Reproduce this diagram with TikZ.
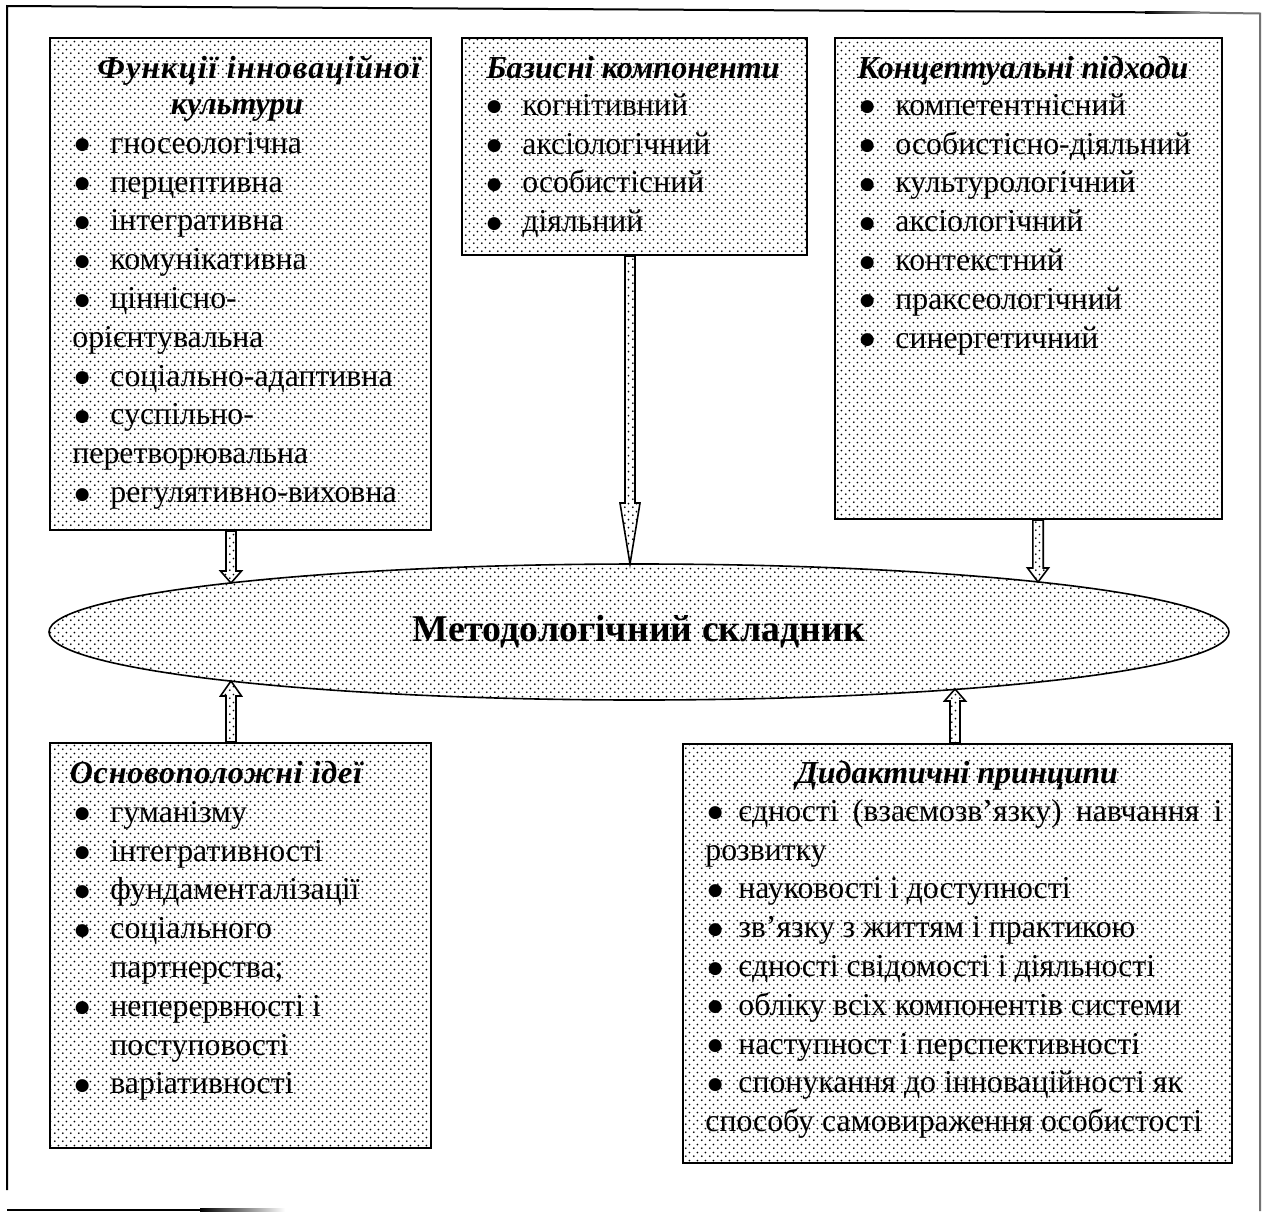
\documentclass[tikz,border=0pt]{standalone}
\usepackage{fontspec}
\setmainfont{Liberation Serif}
\newfontfamily\dotfont{DejaVu Sans}
\usetikzlibrary{patterns,shapes.geometric,fit,calc}

% staggered halftone dots
\pgfdeclarepatternformonly{stipple}{\pgfqpoint{0pt}{0pt}}{\pgfqpoint{3.8pt}{3.8pt}}{\pgfqpoint{3.8pt}{3.8pt}}{%
  \pgfpathcircle{\pgfqpoint{0.95pt}{0.95pt}}{0.5pt}%
  \pgfpathcircle{\pgfqpoint{2.85pt}{2.85pt}}{0.5pt}%
  \pgfusepath{fill}}

\newlength\bulw
\newlength\bulo
\setlength\bulo{1.2pt}
\newcommand\bul[1]{\makebox[\bulw][l]{\hspace*{\bulo}\raisebox{1.7pt}{\dotfont\fontsize{8.5}{10}\selectfont ●}}#1}
\newcommand\cnt[1]{\hspace*{\bulw}#1}

% hollow block arrow: tail, tip, shaft half-width, head half-width, head length
\newcommand\blockarrow[5]{%
  \path[blockfill] let \p1=(#1), \p2=(#2), \p3=($(#2)!#5!(#1)$) in
    (\x1-#3,\y1) -- (\x1-#3,\y3) -- (\x1-#4,\y3) -- (\x2,\y2)
    -- (\x1+#4,\y3) -- (\x1+#3,\y3) -- (\x1+#3,\y1) -- cycle;}

\begin{document}
\begin{tikzpicture}[x=0.5pt, y=-0.5pt,
  panel/.style={draw, line width=1pt, pattern=stipple, inner sep=0pt},
  listtext/.style={font=\fontsize{15.9}{19.4}\selectfont, align=left, inner sep=0pt, anchor=north west},
  heading/.style={font=\fontsize{16}{18}\selectfont\bfseries\itshape, inner sep=0pt, anchor=base},
  hub/.style={ellipse, draw, line width=0.8pt, pattern=stipple, inner sep=0pt,
    minimum width=590pt, minimum height=68pt, font=\fontsize{18.9}{22}\selectfont\bfseries},
  blockfill/.style={draw, line width=0.8pt, pattern=stipple, line join=miter},
  frameline/.style={line width=1pt}]

\useasboundingbox (0,0) rectangle (1263,1211);
\fill[white] (0,0) rectangle (1263,1211);

% page frame
\draw[frameline] (7,1190) -- (7,6) -- (1145,12.3);
\shade[left color=black, right color=black!40] (1145,11.3) rectangle (1200,13.3);
\draw[frameline, black!55] (1200,12.6) -- (1260,13.5) -- (1260,1211);
\fill (7,1208.5) rectangle (200,1211);
\shade[left color=black, right color=white] (200,1208.5) rectangle (285,1211);

% panels
\node[panel, fit={(50,38) (431,530)}] (b1) {};
\node[panel, fit={(462,38) (807,255)}] (b2) {};
\node[panel, fit={(835,38) (1222,519)}] (b3) {};
\node[panel, fit={(50,743) (431,1148)}] (b4) {};
\node[panel, fit={(683,744) (1232,1163)}] (b5) {};

% central ellipse
\node[hub] (meth) at (639,632) {Методологічний складник};

% headings
\node[heading] (h1a) at (259,78) {\addfontfeature{LetterSpace=4.5}Функції інноваційної};
\node[heading] (h1b) at (237,114) {культури};
\node[heading] (h2) at (633,78) {Базисні компоненти};
\node[heading] (h3) at (1023,78) {Концептуальні підходи};
\node[heading] (h4) at (216,783) {\addfontfeature{LetterSpace=2.7}Основоположні ідеї};
\node[heading] (h5) at (957,783) {Дидактичні принципи};

% lists
\setlength\bulw{19pt}
\node[listtext] (t1) at (72,125.8) {\strut\bul{гносеологічна}\\
  \bul{перцептивна}\\
  \bul{інтегративна}\\
  \bul{комунікативна}\\
  \bul{ціннісно-}\\
  орієнтувальна\\
  \bul{соціально-адаптивна}\\
  \bul{суспільно-}\\
  перетворювальна\\
  \bul{регулятивно-виховна}};
\node[listtext] (t2) at (484,87.8) {\strut\bul{когнітивний}\\
  \bul{аксіологічний}\\
  \bul{особистісний}\\
  \bul{діяльний}};
\node[listtext] (t3) at (857,87.8) {\strut\bul{компетентнісний}\\
  \bul{особистісно-діяльний}\\
  \bul{культурологічний}\\
  \bul{аксіологічний}\\
  \bul{контекстний}\\
  \bul{праксеологічний}\\
  \bul{синергетичний}};
\node[listtext] (t4) at (72,794.8) {\strut\bul{гуманізму}\\
  \bul{інтегративності}\\
  \bul{фундаменталізації}\\
  \bul{соціального}\\
  \cnt{партнерства;}\\
  \bul{неперервності і}\\
  \cnt{поступовості}\\
  \bul{варіативності}};
\setlength\bulw{16.5pt}
\node[listtext] (t5) at (705,793.8) {\strut\makebox[258.5pt][s]{\bul{єдності (взаємозв’язку) навчання і}}\\
  розвитку\\
  \bul{науковості і доступності}\\
  \bul{зв’язку з життям і практикою}\\
  \bul{єдності свідомості і діяльності}\\
  \bul{обліку всіх компонентів системи}\\
  \bul{наступност і перспективності}\\
  \bul{спонукання до інноваційності як}\\
  способу самовираження особистості};

% arrow tips on the ellipse border
\coordinate (p1) at (231,583);
\coordinate (p2) at (630,564);
\coordinate (p3) at (1038,582);
\coordinate (p4) at (231,681);
\coordinate (p5) at (955,689);

\blockarrow{p1 |- b1.south}{p1}{2.5pt}{5.25pt}{6pt}
\blockarrow{p2 |- b2.south}{p2}{2.5pt}{5pt}{30.5pt}
\blockarrow{p3 |- b3.south}{p3}{2.6pt}{5.25pt}{7pt}
\blockarrow{p4 |- b4.north}{p4}{2.5pt}{5.25pt}{7.5pt}
\blockarrow{p5 |- b5.north}{p5}{2.5pt}{5.25pt}{6pt}

\end{tikzpicture}
\end{document}
